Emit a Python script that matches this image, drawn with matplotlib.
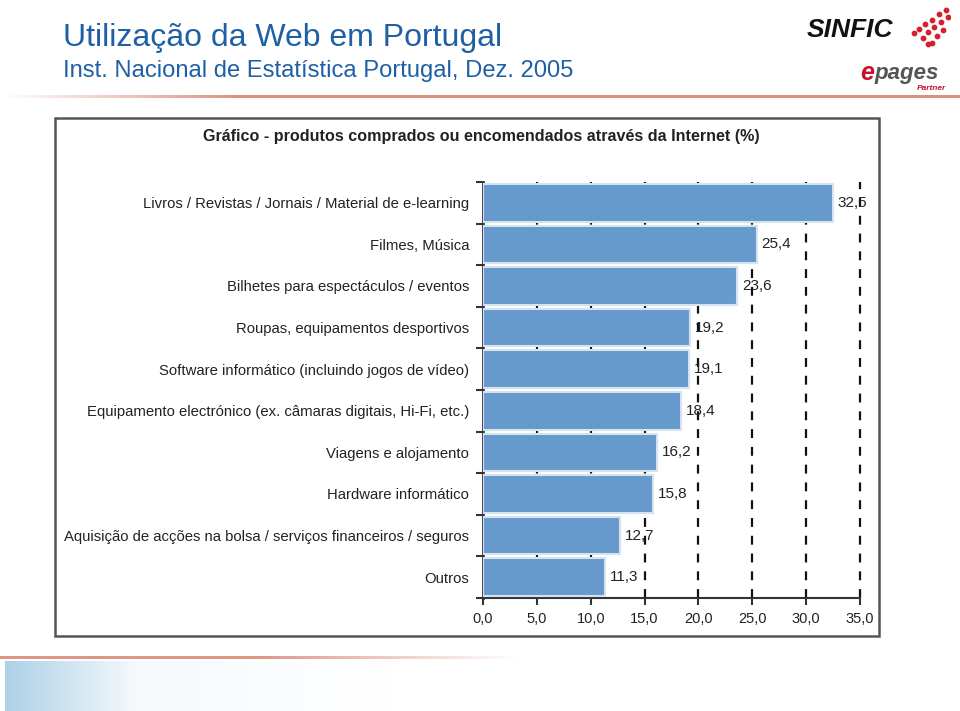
import numpy as np
import matplotlib
matplotlib.use("Agg")
import matplotlib.pyplot as plt
from matplotlib.patches import Rectangle

categorias = [
    "Livros / Revistas / Jornais / Material de e-learning",
    "Filmes, Música",
    "Bilhetes para espectáculos / eventos",
    "Roupas, equipamentos desportivos",
    "Software informático (incluindo jogos de vídeo)",
    "Equipamento electrónico (ex. câmaras digitais, Hi-Fi, etc.)",
    "Viagens e alojamento",
    "Hardware informático",
    "Aquisição de acções na bolsa / serviços financeiros / seguros",
    "Outros",
]
valores = [32.5, 25.4, 23.6, 19.2, 19.1, 18.4, 16.2, 15.8, 12.7, 11.3]
xticks = [0, 5, 10, 15, 20, 25, 30, 35]

plt.rcParams["font.family"] = ["Liberation Sans", "DejaVu Sans"]

fig = plt.figure(figsize=(9.6, 7.11), dpi=100)
W, H = 960, 711


def fx(px):
    return px / W


def fy(py):
    return 1 - py / H


# cabeçalho do slide
fig.text(fx(63), fy(38), "Utilização da Web em Portugal", fontsize=23,
         color="#1f5fa5", va="center", ha="left")
fig.text(fx(63), fy(71), "Inst. Nacional de Estatística Portugal, Dez. 2005",
         fontsize=17.1, color="#1f5fa5", va="center", ha="left")

# logótipos (aproximação em texto)
fig.text(fx(807), fy(30), "SINFIC", fontsize=19, fontweight="bold",
         style="italic", color="#111111", va="center", ha="left")
dots = fig.add_axes([fx(905), fy(48), fx(45), 42 / H])
dx = [0.9, 0.75, 0.95, 0.6, 0.8, 0.45, 0.65, 0.85, 0.3, 0.5, 0.7, 0.2, 0.4, 0.6, 0.5]
dy = [0.95, 0.82, 0.75, 0.68, 0.6, 0.55, 0.47, 0.4, 0.42, 0.33, 0.22, 0.3, 0.18, 0.05, 0.0]
dots.scatter(dx, dy, s=10, color="#d4202a")
dots.set_xlim(0, 1)
dots.set_ylim(-0.1, 1.05)
dots.axis("off")
fig.text(fx(860), fy(73), "e", fontsize=18, fontweight="bold", style="italic",
         color="#c8102e", va="center", ha="left")
fig.text(fx(874), fy(73), "pages", fontsize=16, fontweight="bold", style="italic",
         color="#555555", va="center", ha="left")
fig.text(fx(946), fy(88), "Partner", fontsize=6, fontweight="bold", style="italic",
         color="#c8102e", va="center", ha="right")

# linhas decorativas em gradiente
grad = np.linspace(0, 1, 256)
top_line = fig.add_axes([fx(0), fy(98), 1, 3 / H])
top_rgba = np.zeros((1, 256, 4))
top_rgba[..., :3] = [0.85, 0.52, 0.45]
top_rgba[0, :, 3] = np.clip(grad * 4, 0, 1) * 0.9
top_line.imshow(top_rgba, aspect="auto", extent=[0, 1, 0, 1])
top_line.axis("off")

bot_line = fig.add_axes([fx(0), fy(659), fx(520), 3 / H])
bot_rgba = np.zeros((1, 256, 4))
bot_rgba[..., :3] = [0.85, 0.52, 0.45]
bot_rgba[0, :, 3] = np.clip((1 - grad) * 2, 0, 1) * 0.85
bot_line.imshow(bot_rgba, aspect="auto", extent=[0, 1, 0, 1])
bot_line.axis("off")

bot_img = fig.add_axes([fx(5), fy(711), fx(600), 50 / H])
bg = np.zeros((1, 256, 4))
bg[..., :3] = [0.55, 0.75, 0.88]
bg[0, :, 3] = (np.clip(1 - grad * 4.5, 0, 1) * 0.6
               + np.clip(1 - grad * 1.5, 0, 1) * 0.12)
bot_img.imshow(bg, aspect="auto", extent=[0, 1, 0, 1])
bot_img.axis("off")

# moldura do gráfico
fig.patches.append(Rectangle((fx(55), fy(636)), fx(879 - 55), (636 - 118) / H,
                             transform=fig.transFigure, fill=False,
                             edgecolor="#555555", linewidth=1.8))
fig.text(fx(481), fy(137),
         "Gráfico - produtos comprados ou encomendados através da Internet (%)",
         fontsize=11.6, fontweight="bold", color="#222222", va="center", ha="center")

ax = fig.add_axes([fx(483), fy(598), fx(860 - 483), (598 - 182) / H])
y = np.arange(len(categorias))
ax.barh(y, valores, height=0.9, color="#6699cc", edgecolor="#d5e2f0",
        linewidth=1.5, zorder=3)
for yi, v in zip(y, valores):
    ax.text(v + 0.45, yi, f"{v:.1f}".replace(".", ","), va="center", ha="left",
            fontsize=11, color="#222222", zorder=4)

ax.set_xlim(0, 35)
ax.set_ylim(len(categorias) - 0.5, -0.5)
ax.set_xticks(xticks)
ax.set_xticklabels([f"{t:.1f}".replace(".", ",") for t in xticks],
                   fontsize=10.5, color="#222222")
ax.set_yticks(y)
ax.set_yticklabels(categorias, fontsize=10.7, color="#222222",
                   va="center_baseline")
ax.tick_params(axis="y", length=0, pad=10)
ax.set_yticks(np.arange(-0.5, len(categorias)), minor=True)
ax.tick_params(axis="y", which="minor", length=5, width=1.5, color="#333333")
ax.tick_params(axis="x", length=5, width=1.5, color="#333333", pad=5)
for xv in xticks[1:]:
    ax.axvline(xv, color="#111111", linestyle=(0, (4, 4)), linewidth=1.6,
               zorder=1, clip_on=False)
for s in ["top", "right"]:
    ax.spines[s].set_visible(False)
ax.spines["left"].set_linewidth(2)
ax.spines["left"].set_color("#333333")
ax.spines["bottom"].set_linewidth(1.5)
ax.spines["bottom"].set_color("#333333")
ax.set_facecolor("none")

fig.savefig("out.png", dpi=100)
